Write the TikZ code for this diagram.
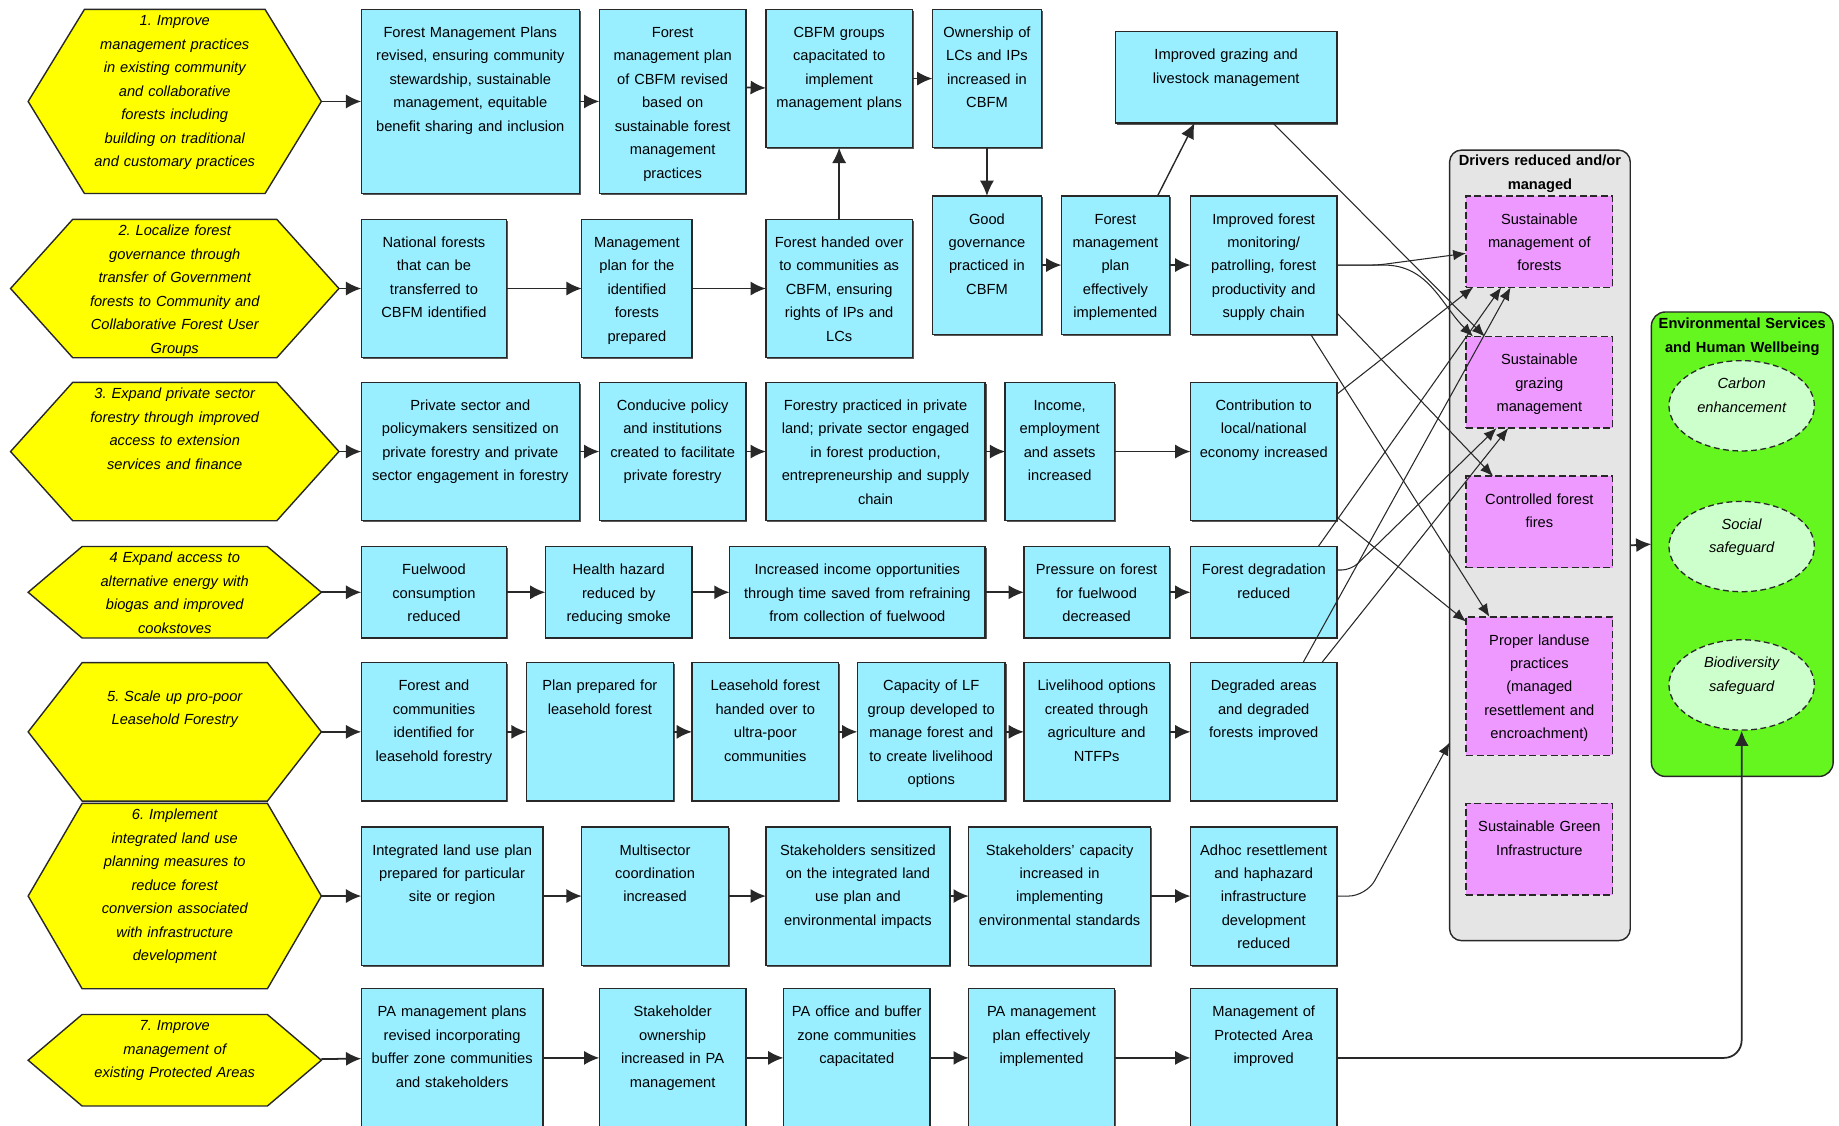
\documentclass[tikz,border=0pt]{standalone}
\usepackage{fontspec}
\setmainfont{Liberation Sans}
\usetikzlibrary{shapes.geometric,arrows.meta,positioning,backgrounds,shadows}

\definecolor{boxblue}{RGB}{153,238,255}
\definecolor{hexyellow}{RGB}{255,255,0}
\definecolor{drvpink}{RGB}{238,153,255}
\definecolor{panelgrey}{RGB}{229,229,229}
\definecolor{panelgreen}{RGB}{100,246,30}
\definecolor{ovalgreen}{RGB}{204,255,204}
\definecolor{edge}{RGB}{40,40,40}

\frenchspacing
\newcommand\boxfont{\fontsize{12.5pt}{20pt}\selectfont}
\newcommand\hexfont{\fontsize{12.5pt}{20pt}\selectfont\itshape}
\newcommand\titlefont{\fontsize{12.5pt}{20pt}\selectfont\bfseries}

\begin{document}
\begin{tikzpicture}[x=1pt,y=-1pt,
  cell/.style={draw=edge,line width=1.2pt,text width=#1,inner sep=0pt,outer sep=0pt,align=center,text height=24pt,font=\boxfont},
  box/.style={cell=#1,fill=boxblue,drop shadow={shadow xshift=1.2pt,shadow yshift=-1.2pt,fill=black!65,opacity=1}},
  rowtall/.style={text depth=133pt},
  rowmid/.style={text depth=94pt},
  rowlow/.style={text depth=54pt},
  hexagon/.style={inner sep=0pt,outer sep=0pt,align=center,text width=#1,text height=14pt,font=\hexfont},
  hexline/.style={draw=edge,line width=1.2pt,fill=hexyellow},
  driver/.style={cell=125pt,fill=drvpink,dash pattern=on 6pt off 3pt},
  panel/.style={draw=edge,line width=1.2pt,inner sep=0pt,outer sep=0pt,align=center,font=\titlefont},
  oval/.style={ellipse,draw=edge,line width=1.1pt,dash pattern=on 5pt off 3pt,fill=ovalgreen,minimum width=124pt,minimum height=77pt,inner sep=0pt,text width=80pt,align=center,text height=10pt,text depth=39pt,font=\hexfont},
  flow/.style={draw=edge,line width=1.5pt,-{Latex[length=13pt,width=12pt]}},
  link/.style={draw=edge,line width=0.9pt,-{Latex[length=11pt,width=9pt]}}]

  \useasboundingbox (0,0) rectangle (1568,960);

  % row 1
  \node[hexagon=160pt,minimum width=250pt,text depth=143pt,anchor=north west] (H1) at (24,8) {1. Improve\\management practices\\in existing community\\and collaborative\\forests including\\building on traditional\\and customary practices};
  \node[box=186pt,rowtall,anchor=north west] (B1a) at (308,8) {Forest Management Plans\\revised, ensuring community\\stewardship, sustainable\\management, equitable\\benefit sharing and inclusion};
  \node[box=125pt,rowtall,right=17pt of B1a.north east,anchor=north west] (B1b) {Forest\\management plan\\of CBFM revised\\based on\\sustainable forest\\management\\practices};
  \node[box=125pt,rowmid,right=17pt of B1b.north east,anchor=north west] (B1c) {CBFM groups\\capacitated to\\implement\\management plans};
  \node[box=93pt,rowmid,right=17pt of B1c.north east,anchor=north west] (B1d) {Ownership of\\LCs and IPs\\increased in\\CBFM};
  \node[box=189pt,rowlow,anchor=north west] (B1e) at (951,27) {Improved grazing and\\livestock management};

  % row 2
  \node[hexagon=200pt,minimum width=280pt,text depth=104pt,anchor=north west] (H2) at (9,187) {2. Localize forest\\governance through\\transfer of Government\\forests to Community and\\Collaborative Forest User\\Groups};
  \node[box=124pt,rowmid,anchor=north west] (B2a) at (308,187) {National forests\\that can be\\transferred to\\CBFM identified};
  \node[box=94pt,rowmid,right=64pt of B2a.north east,anchor=north west] (B2b) {Management\\plan for the\\identified\\forests\\prepared};
  \node[box=125pt,rowmid,right=63pt of B2b.north east,anchor=north west] (B2c) {Forest handed over\\to communities as\\CBFM, ensuring\\rights of IPs and\\LCs};
  \node[box=93pt,rowmid,anchor=north west] (B2d) at (795,167) {Good\\governance\\practiced in\\CBFM};
  \node[box=92pt,rowmid,right=17pt of B2d.north east,anchor=north west] (B2e) {Forest\\management\\plan\\effectively\\implemented};
  \node[box=125pt,rowmid,right=18pt of B2e.north east,anchor=north west] (B2f) {Improved forest\\monitoring/\\patrolling, forest\\productivity and\\supply chain};

  % row 3
  \node[hexagon=200pt,minimum width=280pt,text depth=104pt,anchor=north west] (H3) at (9,326) {3. Expand private sector\\forestry through improved\\access to extension\\services and finance};
  \node[box=186pt,rowmid,anchor=north west] (B3a) at (308,326) {Private sector and\\policymakers sensitized on\\private forestry and private\\sector engagement in forestry};
  \node[box=125pt,rowmid,right=17pt of B3a.north east,anchor=north west] (B3b) {Conducive policy\\and institutions\\created to facilitate\\private forestry};
  \node[box=187pt,rowmid,right=17pt of B3b.north east,anchor=north west] (B3c) {Forestry practiced in private\\land; private sector engaged\\in forest production,\\entrepreneurship and supply\\chain};
  \node[box=93pt,rowmid,right=17pt of B3c.north east,anchor=north west] (B3d) {Income,\\employment\\and assets\\increased};
  \node[box=125pt,rowmid,right=65pt of B3d.north east,anchor=north west] (B3e) {Contribution to\\local/national\\economy increased};

  % row 4
  \node[hexagon=160pt,minimum width=250pt,text depth=64pt,anchor=north west] (H4) at (24,466) {4 Expand access to\\alternative energy with\\biogas and improved\\cookstoves};
  \node[box=124pt,rowlow,anchor=north west] (B4a) at (308,466) {Fuelwood\\consumption\\reduced};
  \node[box=125pt,rowlow,right=33pt of B4a.north east,anchor=north west] (B4b) {Health hazard\\reduced by\\reducing smoke};
  \node[box=218pt,rowlow,right=32pt of B4b.north east,anchor=north west] (B4c) {Increased income opportunities\\through time saved from refraining\\from collection of fuelwood};
  \node[box=124pt,rowlow,right=33pt of B4c.north east,anchor=north west] (B4d) {Pressure on forest\\for fuelwood\\decreased};
  \node[box=125pt,rowlow,right=18pt of B4d.north east,anchor=north west] (B4e) {Forest degradation\\reduced};

  % row 5
  \node[hexagon=160pt,minimum width=250pt,text height=33pt,text depth=85pt,anchor=north west] (H5) at (24,565) {5. Scale up pro-poor\\Leasehold Forestry};
  \node[box=124pt,rowmid,anchor=north west] (B5a) at (308,565) {Forest and\\communities\\identified for\\leasehold forestry};
  \node[box=125pt,rowmid,right=17pt of B5a.north east,anchor=north west] (B5b) {Plan prepared for\\leasehold forest};
  \node[box=125pt,rowmid,right=16pt of B5b.north east,anchor=north west] (B5c) {Leasehold forest\\handed over to\\ultra-poor\\communities};
  \node[box=126pt,rowmid,right=16pt of B5c.north east,anchor=north west] (B5d) {Capacity of LF\\group developed to\\manage forest and\\to create livelihood\\options};
  \node[box=124pt,rowmid,right=16pt of B5d.north east,anchor=north west] (B5e) {Livelihood options\\created through\\agriculture and\\NTFPs};
  \node[box=125pt,rowmid,right=18pt of B5e.north east,anchor=north west] (B5f) {Degraded areas\\and degraded\\forests improved};

  % row 6
  \node[hexagon=160pt,minimum width=250pt,text depth=144pt,anchor=north west] (H6) at (24,685) {6. Implement\\integrated land use\\planning measures to\\reduce forest\\conversion associated\\with infrastructure\\development};
  \node[box=155pt,rowmid,anchor=north west] (B6a) at (308,705) {Integrated land use plan\\prepared for particular\\site or region};
  \node[box=125pt,rowmid,right=33pt of B6a.north east,anchor=north west] (B6b) {Multisector\\coordination\\increased};
  \node[box=157pt,rowmid,right=32pt of B6b.north east,anchor=north west] (B6c) {Stakeholders sensitized\\on the integrated land\\use plan and\\environmental impacts};
  \node[box=155pt,rowmid,right=16pt of B6c.north east,anchor=north west] (B6d) {Stakeholders' capacity\\increased in\\implementing\\environmental standards};
  \node[box=125pt,rowmid,right=34pt of B6d.north east,anchor=north west] (B6e) {Adhoc resettlement\\and haphazard\\infrastructure\\development\\reduced};

  % row 7
  \node[hexagon=160pt,minimum width=250pt,text depth=64pt,anchor=north west] (H7) at (24,865) {7. Improve\\management of\\existing Protected Areas};
  \node[box=155pt,rowmid,anchor=north west] (B7a) at (308,843) {PA management plans\\revised incorporating\\buffer zone communities\\and stakeholders};
  \node[box=125pt,rowmid,right=48pt of B7a.north east,anchor=north west] (B7b) {Stakeholder\\ownership\\increased in PA\\management};
  \node[box=125pt,rowmid,right=32pt of B7b.north east,anchor=north west] (B7c) {PA office and buffer\\zone communities\\capacitated};
  \node[box=124pt,rowmid,right=33pt of B7c.north east,anchor=north west] (B7d) {PA management\\plan effectively\\implemented};
  \node[box=125pt,rowmid,right=65pt of B7d.north east,anchor=north west] (B7e) {Management of\\Protected Area\\improved};

  % drivers and services
  \node[panel,fill=panelgrey,rounded corners=10pt,text width=154pt,text height=13.5pt,text depth=660.5pt,anchor=north west] (drivers) at (1236,128) {Drivers reduced and/or\\managed};
  \node[driver,rowlow,anchor=north west] (P1) at (1250,167) {Sustainable\\management of\\forests};
  \node[driver,rowlow,anchor=north west] (P2) at (1250,287) {Sustainable\\grazing\\management};
  \node[driver,rowlow,anchor=north west] (P3) at (1250,406) {Controlled forest\\fires};
  \node[driver,rowmid,anchor=north west] (P4) at (1250,526) {Proper landuse\\practices\\(managed\\resettlement and\\encroachment)};
  \node[driver,rowlow,anchor=north west] (P5) at (1250,685) {Sustainable Green\\Infrastructure};

  \node[panel,fill=panelgreen,rounded corners=12pt,text width=155pt,text height=14.5pt,text depth=381.5pt,anchor=north west] (services) at (1408,266) {Environmental Services\\and Human Wellbeing};
  \node[oval] (E1) at (1485,346) {Carbon\\enhancement};
  \node[oval] (E2) at (1485,466) {Social\\safeguard};
  \node[oval] (E3) at (1485,584) {Biodiversity\\safeguard};

  % hexagon outlines behind the goal texts
  \begin{pgfonlayer}{background}
    \foreach \h/\d in {H1/48,H2/53,H3/53,H4/46,H5/46,H6/46,H7/46}
      \draw[hexline] (\h.west) -- ([xshift=\d pt]\h.north west) -- ([xshift=-\d pt]\h.north east)
        -- (\h.east) -- ([xshift=-\d pt]\h.south east) -- ([xshift=\d pt]\h.south west) -- cycle;
  \end{pgfonlayer}

  % chains along the rows
  \foreach \a/\b in {H1/B1a,B1a/B1b,B1c/B1d,H2/B2a,B2a/B2b,B2b/B2c,B2d/B2e,B2e/B2f,
      H3/B3a,B3a/B3b,B3b/B3c,B3c/B3d,B3d/B3e,H4/B4a,B4a/B4b,B4b/B4c,B4c/B4d,B4d/B4e,
      H5/B5a,B5a/B5b,B5b/B5c,B5c/B5d,B5d/B5e,B5e/B5f,H6/B6a,B6a/B6b,B6b/B6c,B6c/B6d,B6d/B6e,
      H7/B7a,B7a/B7b,B7b/B7c,B7c/B7d,B7d/B7e}
    \draw[flow] (\a) -- (\b);
  \draw[flow] ([yshift=12pt]B1b.east) -- ([yshift=-8pt]B1c.west);
  \draw[flow,line width=1.2pt] (B2c) -- (B1c);
  \draw[flow,line width=1.2pt] (B1d) -- (B2d);
  \draw[flow,line width=1.2pt] ([xshift=-10pt]B2e.north east) -- ([xshift=-27pt]B1e.south);

  % links to the drivers
  \draw[link] ([xshift=40pt]B1e.south) -- ([xshift=16pt]P2.north west);
  \draw[link,rounded corners=6pt] (B2f.east) -- ++(35,0) -- ([yshift=-10pt]P1.west);
  \draw[link] (B2f.east) -- ++(40,0) to[out=0,in=135] ([xshift=6pt]P2.north west);
  \draw[link] ([yshift=-41pt]B2f.east) -- ([xshift=23pt]P3.north west);
  \draw[link] ([xshift=40pt]B2f.south) -- ([xshift=20pt]P4.north west);
  \draw[link] ([yshift=-10pt]B3e.north east) -- ([xshift=6pt]P1.south west);
  \draw[link] ([yshift=3pt]B3e.south east) -- ([yshift=-4pt]P4.north west);
  \draw[link] ([xshift=-16pt]B4e.north east) -- ([xshift=30pt]P1.south west);
  \draw[link,rounded corners=8pt] ([yshift=19pt]B4e.east) -- ++(12,0) -- ([xshift=26pt]P2.south west);
  \draw[link] ([xshift=-29pt]B5f.north east) -- ([xshift=38pt]P1.south west);
  \draw[link] ([xshift=-13pt]B5f.north east) -- ([xshift=36pt]P2.south west);
  \draw[link,rounded corners=15pt] (B6e.east) -- ++(25,0) -- ([yshift=-168pt]drivers.west);

  \draw[flow] (drivers.east) -- (services.west);
  \draw[flow,rounded corners=15pt] (B7e.east) -| (E3.south);
\end{tikzpicture}
\end{document}
